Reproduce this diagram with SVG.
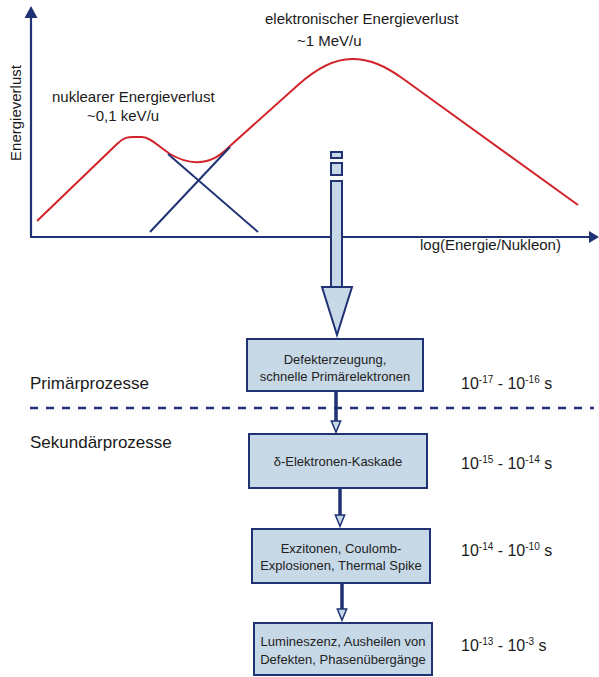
<svg xmlns="http://www.w3.org/2000/svg" width="599" height="677" viewBox="0 0 599 677">
<style>
text{font-family:"Liberation Sans",Arial,sans-serif;fill:#1a1a1a}
.lbl{font-size:15px}
.sec{font-size:17px}
.box rect{fill:#c7d9e7;stroke:#1f3273;stroke-width:2}
.box text{font-size:13px;text-anchor:middle;fill:#222}
.time{font-size:16px}
.sup{font-size:10px}
.axis{stroke:#1f3273;stroke-width:2.2;fill:none}
.conn line{stroke:#1f3273;stroke-width:3.5}
.big{fill:#c7d9e7;stroke:#1f3273;stroke-width:2}
</style>
<defs>
<marker id="hollow" markerUnits="userSpaceOnUse" markerWidth="14" markerHeight="14" refX="0" refY="0" orient="auto" overflow="visible" viewBox="-1 -7 15 14">
<path d="M0,-5 L12,0 L0,5 Z" fill="#c7d9e7" stroke="#1f3273" stroke-width="1.6" stroke-linejoin="miter"/>
</marker>
</defs>
<rect width="599" height="677" fill="#ffffff"/>

<g id="chart">
<path d="M37,221 L117,144 C124,137 128,137 134,137 L142,137 C150,137 158,146 170,154 C182,161 190,163 200,162 C212,161 220,156 230,146 L298,85 C318,67 335,59 352,59 C370,59 385,66 402,78 L578,205" fill="none" stroke="#d3232a" stroke-width="2"/>
<line x1="150" y1="232" x2="230" y2="147" stroke="#1f3273" stroke-width="2"/>
<line x1="168" y1="154" x2="258" y2="232" stroke="#1f3273" stroke-width="2"/>
<line class="axis" x1="31" y1="237" x2="31" y2="17"/>
<polygon points="24.5,18 37.5,18 31,6" fill="#1f3273"/>
<line class="axis" x1="30" y1="237" x2="590" y2="237"/>
<polygon points="589,231 589,243 599,237" fill="#1f3273"/>
<text class="lbl" x="265" y="24">elektronischer Energieverlust</text>
<text class="lbl" x="297" y="46">~1 MeV/u</text>
<text class="lbl" x="52" y="102">nuklearer Energieverlust</text>
<text class="lbl" x="87" y="121">~0,1 keV/u</text>
<text class="lbl" transform="translate(21,113) rotate(-90)" text-anchor="middle">Energieverlust</text>
<text class="lbl" x="420" y="250">log(Energie/Nukleon)</text>
</g>

<g id="beam">
<rect class="big" x="331" y="152" width="11" height="6"/>
<rect class="big" x="331" y="163" width="11" height="12"/>
<rect class="big" x="331" y="181" width="11" height="106"/>
<polygon class="big" points="322,287 352,287 337,335"/>
</g>

<g id="sections">
<line x1="30" y1="408" x2="594" y2="408" stroke="#1f3273" stroke-width="2.5" stroke-dasharray="8 8"/>
<text class="sec" x="30" y="389">Primärprozesse</text>
<text class="sec" x="30" y="448">Sekundärprozesse</text>
</g>

<g class="conn" id="connectors">
<line x1="336" y1="392" x2="336" y2="421" marker-end="url(#hollow)"/>
<line x1="340" y1="489" x2="340" y2="515" marker-end="url(#hollow)"/>
<line x1="342" y1="584" x2="342" y2="609" marker-end="url(#hollow)"/>
</g>

<g class="box" id="n1">
<rect x="247" y="339" width="176" height="52"/>
<text x="335" y="364">Defekterzeugung,</text>
<text x="335" y="381">schnelle Primärelektronen</text>
</g>
<g class="box" id="n2">
<rect x="249" y="434" width="178" height="54"/>
<text x="338" y="466">δ-Elektronen-Kaskade</text>
</g>
<g class="box" id="n3">
<rect x="252" y="529" width="178" height="54"/>
<text x="341" y="553">Exzitonen, Coulomb-</text>
<text x="341" y="570">Explosionen, Thermal Spike</text>
</g>
<g class="box" id="n4">
<rect x="254" y="623" width="178" height="52"/>
<text x="343" y="646">Lumineszenz, Ausheilen von</text>
<text x="343" y="664">Defekten, Phasenübergänge</text>
</g>

<g id="times">
<text class="time" x="461" y="389">10<tspan class="sup" dy="-6">-17</tspan><tspan dy="6"> - 10</tspan><tspan class="sup" dy="-6">-16</tspan><tspan dy="6"> s</tspan></text>
<text class="time" x="461" y="469">10<tspan class="sup" dy="-6">-15</tspan><tspan dy="6"> - 10</tspan><tspan class="sup" dy="-6">-14</tspan><tspan dy="6"> s</tspan></text>
<text class="time" x="461" y="556">10<tspan class="sup" dy="-6">-14</tspan><tspan dy="6"> - 10</tspan><tspan class="sup" dy="-6">-10</tspan><tspan dy="6"> s</tspan></text>
<text class="time" x="461" y="651">10<tspan class="sup" dy="-6">-13</tspan><tspan dy="6"> - 10</tspan><tspan class="sup" dy="-6">-3</tspan><tspan dy="6"> s</tspan></text>
</g>
</svg>
